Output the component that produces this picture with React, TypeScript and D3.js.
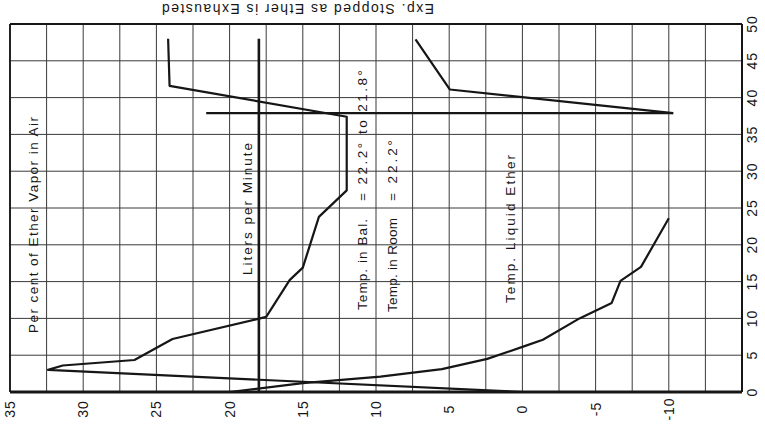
import React from "react";
import * as d3 from "d3";

// Horizontal axis values (left 35 → right -15), vertical axis time 0..50
const xTickValues = [35, 30, 25, 20, 15, 10, 5, 0, -5, -10];
const xTickLabels = ["35", "30", "25", "20", "15", "10", "5", "0", "-5", "-10"];
const yTickValues = [0, 5, 10, 15, 20, 25, 30, 35, 40, 45, 50];
const yTickLabels = ["0", "5", "10", "15", "20", "25", "30", "35", "40", "45", "50"];

// Percent of Ether Vapor in Air
const vaporValues = [0, 32.4, 31.4, 26.5, 23.9, 17.5, 15.9, 15.0, 13.9, 12.0, 12.0, 24.1, 24.2];
const vaporTimes = [0, 3.0, 3.6, 4.35, 7.2, 10.2, 15.2, 16.9, 23.8, 27.4, 37.4, 41.6, 48];

// Temp. Liquid Ether (first part)
const liquidValues = [20, 15.0, 9.7, 5.5, 2.4, -0.1, -1.4, -3.9, -6.1, -6.7, -8.1, -10.0];
const liquidTimes = [0, 1.2, 2.1, 3.1, 4.5, 6.2, 7.1, 10.0, 12.1, 15.1, 17.0, 23.6];

// Temp. Liquid Ether (after stop)
const liquidEndValues = [-10.3, 4.95, 7.3];
const liquidEndTimes = [37.9, 41.1, 47.9];

// Stop marker line
const stopValues = [21.6, -10.3];
const stopTimes = [37.9, 37.9];

// Liters per Minute
const litersValues = [18, 18];
const litersTimes = [0, 48];

const W = 765;
const H = 426;

export default function App() {
  const x = d3.scaleLinear().domain([35, -15]).range([10, 742]);
  const y = d3.scaleLinear().domain([0, 50]).range([392, 24]);

  const line = d3
    .line<[number, number]>()
    .x((d) => x(d[0]))
    .y((d) => y(d[1]));

  const zip = (v: number[], t: number[]) => v.map((val, i) => [val, t[i]] as [number, number]);

  const vGrid = d3.range(35, -15.01, -2.5);
  const hGrid = d3.range(0, 50.01, 5);

  const font = "'Liberation Sans', Arial, sans-serif";
  const ink = "#161616";

  const rotText = (
    label: string,
    cx: number,
    yBottom: number,
    yTop: number,
    key: string
  ) => (
    <text
      key={key}
      transform={`translate(${cx},${yBottom}) rotate(-90)`}
      textAnchor="start"
      dominantBaseline="central"
      fontSize={13.5}
      fontFamily={font}
      fill={ink}
      textLength={yBottom - yTop}
      lengthAdjust="spacing"
    >
      {label}
    </text>
  );

  return (
    <svg
      width={W}
      height={H}
      style={{ position: "absolute", left: 0, top: 0, background: "#fff" }}
    >
      <rect x={0} y={0} width={W} height={H} fill="#fff" />
      {/* grid */}
      <g stroke="#3a3a3a" strokeWidth={1}>
        {vGrid.map((v, i) => (
          <line key={"v" + i} x1={x(v)} x2={x(v)} y1={y(0)} y2={y(50)} />
        ))}
        {hGrid.map((t, i) => (
          <line key={"h" + i} x1={x(35)} x2={x(-15)} y1={y(t)} y2={y(t)} />
        ))}
      </g>
      {/* frame */}
      <line x1={x(35)} x2={x(-15)} y1={y(50)} y2={y(50)} stroke={ink} strokeWidth={2} />
      <line x1={x(-15)} x2={x(-15)} y1={y(0)} y2={y(50)} stroke={ink} strokeWidth={2} />
      <line x1={x(35)} x2={x(35)} y1={y(0)} y2={y(50)} stroke={ink} strokeWidth={1.8} />
      <line x1={x(35)} x2={x(-15)} y1={y(0)} y2={y(0)} stroke={ink} strokeWidth={3} />

      {/* data lines */}
      <g fill="none" stroke={ink} strokeWidth={2.2} strokeLinejoin="round">
        <path d={line(zip(vaporValues, vaporTimes)) || ""} />
        <path d={line(zip(liquidValues, liquidTimes)) || ""} />
        <path d={line(zip(liquidEndValues, liquidEndTimes)) || ""} />
        <path d={line(zip(stopValues, stopTimes)) || ""} />
        <path d={line(zip(litersValues, litersTimes)) || ""} strokeWidth={2.6} />
      </g>

      {/* bottom tick labels */}
      {xTickValues.map((v, i) => (
        <text
          key={"xt" + i}
          transform={`translate(${x(v)},409) rotate(-90)`}
          textAnchor="middle"
          dominantBaseline="central"
          fontSize={14}
          letterSpacing={1}
          fontFamily={font}
          fill={ink}
        >
          {xTickLabels[i]}
        </text>
      ))}
      {/* right tick labels */}
      {yTickValues.map((t, i) => (
        <text
          key={"yt" + i}
          transform={`translate(752,${y(t)}) rotate(-90)`}
          textAnchor="middle"
          dominantBaseline="central"
          fontSize={14}
          letterSpacing={1}
          fontFamily={font}
          fill={ink}
        >
          {yTickLabels[i]}
        </text>
      ))}

      {/* annotations */}
      {rotText("Per cent of Ether Vapor in Air", 33, 333, 117, "a1")}
      {rotText("Liters per Minute", 247, 275, 143, "a2")}
      {rotText("Temp. in Bal.", 362, 310, 219, "a3")}
      {rotText("= 22.2° to 21.8°", 362, 201, 70, "a4")}
      {rotText("Temp. in Room", 392, 312, 218, "a5")}
      {rotText("= 22.2°", 392, 201, 140, "a6")}
      {rotText("Temp. Liquid Ether", 510, 303, 155, "a7")}

      {/* upside-down title */}
      <text
        transform={`translate(298,9) rotate(180)`}
        textAnchor="middle"
        dominantBaseline="central"
        fontSize={14}
        fontFamily={font}
        fill={ink}
        textLength={272}
        lengthAdjust="spacing"
      >
        Exp. Stopped as Ether is Exhausted
      </text>
    </svg>
  );
}
